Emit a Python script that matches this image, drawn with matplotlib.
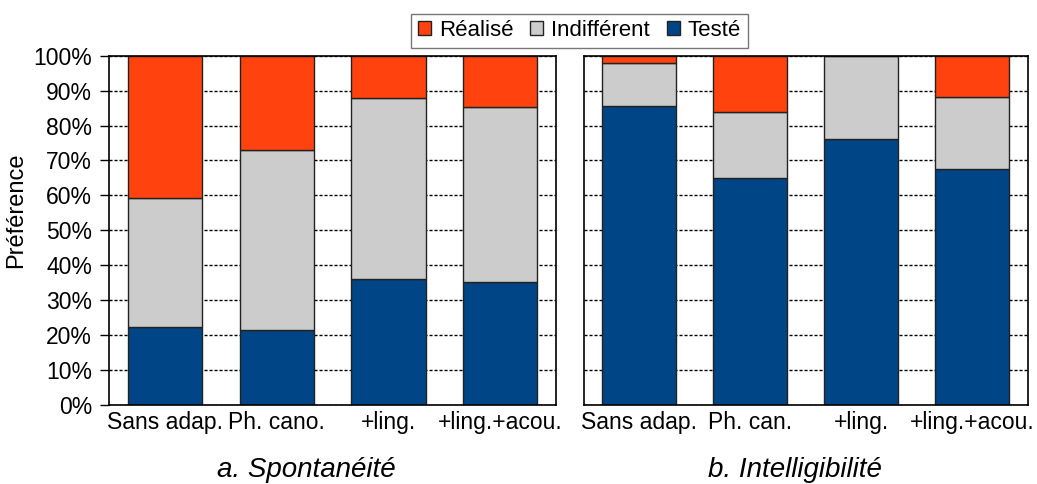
import numpy as np
import matplotlib.pyplot as plt
from matplotlib.ticker import PercentFormatter

plt.rcParams['font.family'] = ['Liberation Sans', 'DejaVu Sans']

labels_a = ['Sans adap.', 'Ph. cano.', '+ling.', '+ling.+acou.']
labels_b = ['Sans adap.', 'Ph. can.', '+ling.', '+ling.+acou.']

# percentages per condition
teste_a = [22.3, 21.6, 36.0, 35.2]
indiff_a = [36.9, 51.3, 52.0, 50.0]
realise_a = [40.8, 27.1, 12.0, 14.8]

teste_b = [85.7, 65.0, 76.1, 67.6]
indiff_b = [12.3, 18.9, 23.9, 20.7]
realise_b = [2.0, 16.1, 0.0, 11.7]

colors = {'Testé': '#004586', 'Indifférent': '#cccccc', 'Réalisé': '#ff420e'}


def stacked(ax, labels, teste, indiff, realise, show_y):
    x = np.arange(len(labels))
    teste = np.array(teste)
    indiff = np.array(indiff)
    realise = np.array(realise)
    kw = dict(width=0.665, edgecolor='#222222', linewidth=1, zorder=3)
    ax.bar(x, teste, color=colors['Testé'], label='Testé', **kw)
    ax.bar(x, indiff, bottom=teste, color=colors['Indifférent'], label='Indifférent', **kw)
    ax.bar(x, realise, bottom=teste + indiff, color=colors['Réalisé'], label='Réalisé', **kw)
    ax.set_xlim(-0.5, len(labels) - 0.5)
    ax.set_ylim(0, 100)
    ax.set_yticks(np.arange(0, 101, 10))
    ax.yaxis.set_major_formatter(PercentFormatter(decimals=0))
    ax.yaxis.grid(True, linestyle=(0, (2.2, 1.4)), color='black', linewidth=1, zorder=0)
    ax.set_xticks(x)
    ax.set_xticklabels(labels, fontsize=16.5)
    ax.tick_params(axis='x', length=0, pad=4)
    if show_y:
        ax.tick_params(axis='y', labelsize=16.5, length=6.5, width=1, direction='out', pad=6)
    else:
        ax.tick_params(axis='y', length=0, labelleft=False)
    for s in ax.spines.values():
        s.set_linewidth(1.2)
        s.set_zorder(4)


fig = plt.figure(figsize=(10.37, 4.84), dpi=100)
ax1 = fig.add_axes([0.1054, 0.1632, 0.4308, 0.7217])
ax2 = fig.add_axes([0.5627, 0.1632, 0.4282, 0.7217])

stacked(ax1, labels_a, teste_a, indiff_a, realise_a, True)
stacked(ax2, labels_b, teste_b, indiff_b, realise_b, False)
ax1.set_ylabel('Préférence', fontsize=17)
ax1.yaxis.set_label_coords(-0.184, 0.557)

fig.text(0.295, 0.0145, 'a. Spontanéité', fontsize=20, style='italic', ha='center', va='baseline')
fig.text(0.7666, 0.0145, 'b. Intelligibilité', fontsize=20, style='italic', ha='center', va='baseline')

handles, names = ax1.get_legend_handles_labels()
leg = fig.legend(handles[::-1], names[::-1], loc='center', bbox_to_anchor=(0.5587, 0.9366),
                 ncol=3, fontsize=16, frameon=True, fancybox=False, edgecolor='#555555',
                 handlelength=0.6, handleheight=0.6, handletextpad=0.35, columnspacing=0.75,
                 borderpad=0.3, borderaxespad=0)
leg.get_frame().set_linewidth(1)

fig.savefig('out.png', dpi=100)
